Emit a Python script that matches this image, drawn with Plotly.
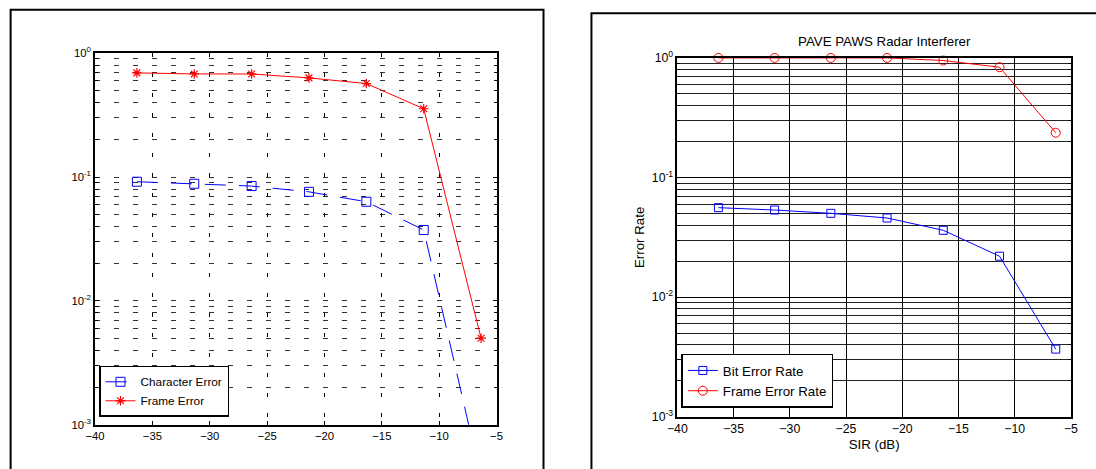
import plotly.graph_objects as go

# SIR values (dB) shared by both panels
sir = [-36.35, -31.35, -26.35, -21.35, -16.35, -11.35, -6.35]

# Left panel: character / frame error
char_err = [0.0917, 0.0883, 0.0846, 0.076, 0.0632, 0.0374, 0.00037]
frame_err = [0.694, 0.68, 0.68, 0.632, 0.569, 0.356, 0.005]

# Right panel: PAVE PAWS radar interferer
bit_err_rate = [0.056, 0.0535, 0.0502, 0.0459, 0.0362, 0.022, 0.00368]
frame_err_rate = [1.0, 1.0, 1.0, 1.0, 0.951, 0.836, 0.237]

x_ticks = [-40, -35, -30, -25, -20, -15, -10, -5]
y_ticks = [0.001, 0.01, 0.1, 1]
y_tick_text = ["10<sup>-3</sup>", "10<sup>-2</sup>", "10<sup>-1</sup>", "10<sup>0</sup>"]

W, H = 1096, 469
# layout positions below are given in page pixels; the page keeps an 8px body margin
PAGE_MARGIN = 8
SX = W / (W + 2 * PAGE_MARGIN)
SY = H / (H + 2 * PAGE_MARGIN)
FS = 1.0 / ((SX + SY) / 2)  # text size compensation
FONT = "Liberation Sans, Arial, sans-serif"
BLUE = "#0000FF"
RED = "#FF0000"


def px(x):
    """Page x (pixels) -> paper fraction."""
    return (x / SX - PAGE_MARGIN) / W


def py(y):
    """Page y (pixels from top) -> paper fraction."""
    return 1 - (y / SY - PAGE_MARGIN) / H


def fnt(size):
    return dict(family=FONT, size=round(size * FS, 1), color="black")


fig = go.Figure()

fig.add_trace(go.Scatter(
    x=sir, y=char_err, name="Character Error", mode="lines+markers",
    line=dict(color=BLUE, width=1, dash="21px,13px"),
    marker=dict(symbol="square-open", size=9, color=BLUE, line=dict(width=1)),
    xaxis="x", yaxis="y", legend="legend",
))
fig.add_trace(go.Scatter(
    x=sir, y=frame_err, name="Frame Error", mode="lines+markers",
    line=dict(color=RED, width=1),
    marker=dict(symbol="asterisk-open", size=8, color=RED, line=dict(width=1.2, color=RED)),
    xaxis="x", yaxis="y", legend="legend",
))
fig.add_trace(go.Scatter(
    x=sir, y=bit_err_rate, name="Bit Error Rate", mode="lines+markers",
    line=dict(color=BLUE, width=1),
    marker=dict(symbol="square-open", size=8, color=BLUE, line=dict(width=1)),
    xaxis="x2", yaxis="y2", legend="legend2", cliponaxis=False,
))
fig.add_trace(go.Scatter(
    x=sir, y=frame_err_rate, name="Frame Error Rate", mode="lines+markers",
    line=dict(color=RED, width=1),
    marker=dict(symbol="circle-open", size=9, color=RED, line=dict(width=1)),
    xaxis="x2", yaxis="y2", legend="legend2", cliponaxis=False,
))

common_x = dict(
    range=[-40, -5], tickmode="array", tickvals=x_ticks, ticks="inside", ticklen=4,
    tickcolor="black", showline=True, linecolor="black", linewidth=1.5,
    mirror="allticks", zeroline=False, showgrid=True,
)
common_y = dict(
    type="log", range=[-3, 0], tickmode="array", tickvals=y_ticks, ticktext=y_tick_text,
    ticks="inside", ticklen=4, tickcolor="black", showline=True, linecolor="black",
    linewidth=1.5, mirror="allticks", zeroline=False, showgrid=True,
)

legend_style = dict(
    xanchor="left", yanchor="bottom", bgcolor="white", bordercolor="black",
    borderwidth=1.5, tracegroupgap=0, itemwidth=30,
)

fig.update_layout(
    width=W, height=H, margin=dict(l=0, r=0, t=0, b=0),
    paper_bgcolor="white", plot_bgcolor="white",
    font=fnt(11),
    xaxis=dict(common_x, domain=[px(93), px(495)], anchor="y", tickfont=fnt(11),
               gridcolor="black", griddash="4px,16px", gridwidth=1),
    yaxis=dict(common_y, domain=[py(424), py(52)], anchor="x", tickfont=fnt(11),
               gridcolor="#333333", griddash="5px,14px", gridwidth=1,
               minor=dict(dtick="D1", ticks="inside", ticklen=3, tickcolor="black",
                          showgrid=True, gridcolor="#333333", griddash="5px,14px")),
    xaxis2=dict(common_x, domain=[px(676), px(1070)], anchor="y2", tickfont=fnt(12),
                gridcolor="black", gridwidth=1,
                title=dict(text="SIR (dB)", font=fnt(13), standoff=4)),
    yaxis2=dict(common_y, domain=[py(416), py(56.7)], anchor="x2", tickfont=fnt(12),
                gridcolor="black", gridwidth=1,
                minor=dict(dtick="D1", ticks="inside", ticklen=3, tickcolor="black",
                           showgrid=True, gridcolor="#222222"),
                title=dict(text="Error Rate", font=fnt(13), standoff=4)),
    legend=dict(legend_style, x=px(97), y=py(416), font=fnt(11.5)),
    legend2=dict(legend_style, x=px(680), y=py(407), font=fnt(13)),
    annotations=[dict(
        text="PAVE PAWS Radar Interferer", xref="paper", yref="paper",
        x=px(883), y=py(40), xanchor="center", yanchor="middle", showarrow=False,
        font=fnt(13),
    )],
    shapes=[
        # frames around each panel
        dict(type="path", xref="paper", yref="paper",
             path=f"M {px(8.5)},{py(480)} L {px(8.5)},{py(8.5)} L {px(542)},{py(8.5)} L {px(542)},{py(480)}",
             line=dict(color="black", width=2)),
        dict(type="path", xref="paper", yref="paper",
             path=f"M {px(590)},{py(480)} L {px(590)},{py(12)} L {px(1110)},{py(12)}",
             line=dict(color="black", width=2)),
    ],
    showlegend=True,
)

fig.write_html("out.html")
